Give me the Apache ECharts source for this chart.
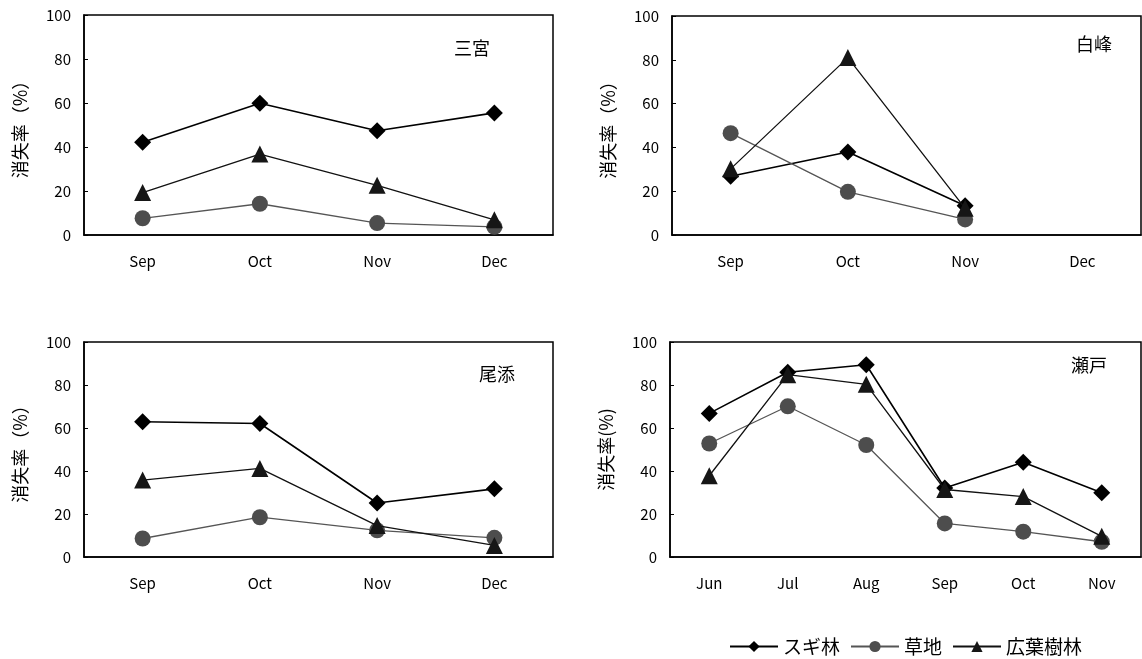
<!DOCTYPE html>
<html>
<head>
<meta charset="utf-8">
<script src="https://cdn.jsdelivr.net/npm/echarts@6/dist/echarts.min.js"></script>
<style>
  html, body { margin: 0; padding: 0; background: #fff; }
  #chart { width: 1142px; height: 659px; }
</style>
</head>
<body>
<div id="chart"></div>
<script>
// categories
const monthsA = ['Sep', 'Oct', 'Nov', 'Dec']
const monthsB = ['Jun', 'Jul', 'Aug', 'Sep', 'Oct', 'Nov']
const yTicks = [0, 20, 40, 60, 80, 100]

// 三宮
const sannomiyaSugi = [42.2, 59.9, 47.4, 55.5]
const sannomiyaSochi = [7.6, 14.2, 5.4, 3.7]
const sannomiyaKoyo = [19.3, 36.8, 22.6, 6.9]
// 白峰
const shiramineSugi = [26.8, 37.9, 13.4]
const shiramineSochi = [46.5, 19.7, 7.1]
const shiramineKoyo = [30.2, 81, 12.2]
// 尾添
const ozoSugi = [62.9, 62.1, 25.1, 31.7]
const ozoSochi = [8.6, 18.5, 12.4, 8.9]
const ozoKoyo = [35.8, 41.2, 14.6, 5.4]
// 瀬戸
const setoSugi = [66.8, 85.9, 89.4, 32.1, 44.1, 29.9]
const setoSochi = [52.8, 70.1, 52.1, 15.6, 11.8, 7.1]
const setoKoyo = [37.8, 84.8, 80.3, 31.4, 28.1, 9.6]

const seriesNames = ['スギ林', '草地', '広葉樹林']
const panels = [
  { title: '三宮', yName: '消失率（%）', cats: monthsA, data: [sannomiyaSugi, sannomiyaSochi, sannomiyaKoyo],
    grid: { left: 84, top: 15, width: 469, height: 220 }, tx: 472, ty: 48 },
  { title: '白峰', yName: '消失率（%）', cats: monthsA, data: [shiramineSugi, shiramineSochi, shiramineKoyo],
    grid: { left: 672, top: 16, width: 469, height: 219 }, tx: 1094, ty: 44 },
  { title: '尾添', yName: '消失率（%）', cats: monthsA, data: [ozoSugi, ozoSochi, ozoKoyo],
    grid: { left: 84, top: 342, width: 469, height: 215 }, tx: 497, ty: 374 },
  { title: '瀬戸', yName: '消失率(%)', cats: monthsB, data: [setoSugi, setoSochi, setoKoyo],
    grid: { left: 670, top: 342, width: 471, height: 215 }, tx: 1089, ty: 365 },
]

const styles = [
  { symbol: 'diamond', symbolSize: 17, color: '#000', lineColor: '#000', lineWidth: 1.6 },
  { symbol: 'circle', symbolSize: 16, color: '#4d4d4d', lineColor: '#555', lineWidth: 1.3 },
  { symbol: 'triangle', symbolSize: 17, color: '#161616', lineColor: '#111', lineWidth: 1.3 },
]

const font = "'Noto Sans CJK JP', 'Liberation Sans', sans-serif"

const grids = []
const xAxes = []
const yAxes = []
const series = []
const graphics = []

panels.forEach((p, i) => {
  grids.push(Object.assign({ show: true, borderColor: '#000', borderWidth: 1.5, backgroundColor: 'transparent' }, p.grid))
  xAxes.push({
    type: 'category',
    gridIndex: i,
    data: p.cats,
    boundaryGap: true,
    axisLine: { lineStyle: { color: '#000', width: 1.5 } },
    axisTick: { show: false },
    axisLabel: { color: '#000', fontSize: 15, fontFamily: font, margin: 19 },
  })
  yAxes.push({
    type: 'value',
    gridIndex: i,
    min: 0,
    max: 100,
    interval: 20,
    name: p.yName,
    nameLocation: 'middle',
    nameGap: 55,
    nameRotate: 90,
    nameTextStyle: { color: '#000', fontSize: 18, fontFamily: font },
    axisLine: { show: true, lineStyle: { color: '#000', width: 1.5 } },
    axisTick: { show: true, inside: true, length: 4, lineStyle: { color: '#000' } },
    axisLabel: { color: '#000', fontSize: 15, fontFamily: font, margin: 13 },
    splitLine: { show: false },
  })
  p.data.forEach((vals, k) => {
    const s = styles[k]
    series.push({
      name: seriesNames[k],
      type: 'line',
      xAxisIndex: i,
      yAxisIndex: i,
      data: vals,
      symbol: s.symbol,
      symbolSize: s.symbolSize,
      showAllSymbol: true,
      itemStyle: { color: s.color },
      lineStyle: { color: s.lineColor, width: s.lineWidth },
      z: 3 + k,
    })
  })
  graphics.push({
    type: 'text',
    x: p.tx,
    y: p.ty,
    style: { text: p.title, fill: '#000', font: '18px ' + font, textAlign: 'center', textVerticalAlign: 'middle' },
  })
})

const chart = echarts.init(document.getElementById('chart'), null, { renderer: 'canvas' })
chart.setOption({
  animation: false,
  backgroundColor: '#fff',
  grid: grids,
  xAxis: xAxes,
  yAxis: yAxes,
  series: series,
  graphic: graphics,
  legend: {
    data: seriesNames,
    left: 724,
    top: 632,
    itemWidth: 48,
    itemHeight: 14,
    itemGap: 10,
    textStyle: { color: '#000', fontSize: 19, fontFamily: font },
  },
})
</script>
</body>
</html>
